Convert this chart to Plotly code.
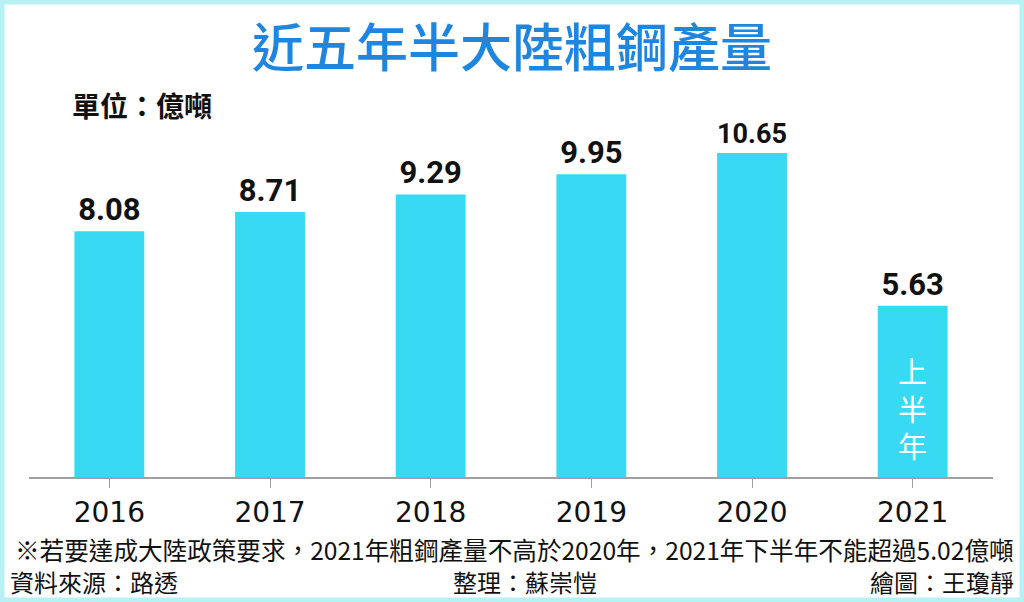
import plotly.graph_objects as go

# DATA #
years = ["2016", "2017", "2018", "2019", "2020", "2021"]
output = [8.08, 8.71, 9.29, 9.95, 10.65, 5.63]        # 億噸
value_labels = ["8.08", "8.71", "9.29", "9.95", "10.65", "5.63"]

title_text = "近五年半大陸粗鋼產量"
unit_text = "單位：億噸"
half_text = "上<br>半<br>年"
note_text = "※若要達成大陸政策要求，2021年粗鋼產量不高於2020年，2021年下半年不能超過5.02億噸"
source_text = "資料來源：路透"
editor_text = "整理：蘇崇愷"
artist_text = "繪圖：王瓊靜"

# LAYOUT #
W, H = 1024, 602
ml, mr, mt, mb = 29, 31, 112, 125
pw, ph = W - ml - mr, H - mt - mb

cjk = "Noto Sans CJK TC, Noto Sans CJK SC, sans-serif"
bar_color = "#38daf3"


def px(x):   # pixel x -> paper
    return (x - ml) / pw


def py(y):   # pixel y (from top) -> paper
    return (H - mb - y) / ph


fig = go.Figure()
fig.add_trace(go.Bar(
    x=years, y=output,
    marker=dict(color=bar_color, line=dict(width=0)),
    text=value_labels, textposition="outside", cliponaxis=False,
    textfont=dict(family="Roboto, Liberation Sans, sans-serif", size=31, color="#111111", weight="bold"),
    hoverinfo="skip",
))

# 上半年 inside 2021 bar (category index of the last year)
fig.add_annotation(x=len(years) - 1, y=2.3, xref="x", yref="y", text=half_text, showarrow=False,
                   font=dict(family=cjk, size=29, color="white"), align="center")

# titles and footnotes
fig.add_annotation(x=px(512), y=py(45), xref="paper", yref="paper", text=title_text, showarrow=False,
                   font=dict(family=cjk, size=52, color="#1f86e0", weight=500), xanchor="center", yanchor="middle")
fig.add_annotation(x=px(70), y=py(105), xref="paper", yref="paper", text=unit_text, showarrow=False,
                   font=dict(family=cjk, size=28, color="#111111", weight="bold"), xanchor="left", yanchor="middle")
fig.add_annotation(x=px(514), y=py(549), xref="paper", yref="paper", text=note_text, showarrow=False,
                   font=dict(family=cjk, size=24.6, color="#111111"), xanchor="center", yanchor="middle")
fig.add_annotation(x=px(8), y=py(581), xref="paper", yref="paper", text=source_text, showarrow=False,
                   font=dict(family=cjk, size=24, color="#111111"), xanchor="left", yanchor="middle")
fig.add_annotation(x=px(525), y=py(581), xref="paper", yref="paper", text=editor_text, showarrow=False,
                   font=dict(family=cjk, size=24, color="#111111"), xanchor="center", yanchor="middle")
fig.add_annotation(x=px(1016), y=py(581), xref="paper", yref="paper", text=artist_text, showarrow=False,
                   font=dict(family=cjk, size=24, color="#111111"), xanchor="right", yanchor="middle")

# light cyan frame around the picture
fig.add_shape(type="rect", xref="paper", yref="paper", x0=px(0), x1=px(W), y0=py(H), y1=py(0),
              line=dict(color="#b6f1f6", width=9), layer="above")

fig.update_layout(
    width=W, height=H,
    margin=dict(l=ml, r=mr, t=mt, b=mb),
    paper_bgcolor="white", plot_bgcolor="white",
    bargap=0.565, showlegend=False,
    xaxis=dict(type="category", range=[-0.5, len(years) - 0.5], automargin=False,
               showline=True, linecolor="#a0a0a0", linewidth=2, ticks="outside", ticklen=9,
               tickcolor="#a0a0a0", tickwidth=1,
               tickfont=dict(family="DejaVu Sans, sans-serif", size=28, color="#111111"),
               showgrid=False, zeroline=False),
    yaxis=dict(range=[0, 12], visible=False, showgrid=False, zeroline=False, automargin=False),
)

# page has default body margin; drop it so the figure sits at the window corner
fig.write_html("out.html", config={"displayModeBar": False},
               post_script="document.body.style.margin='0';")
